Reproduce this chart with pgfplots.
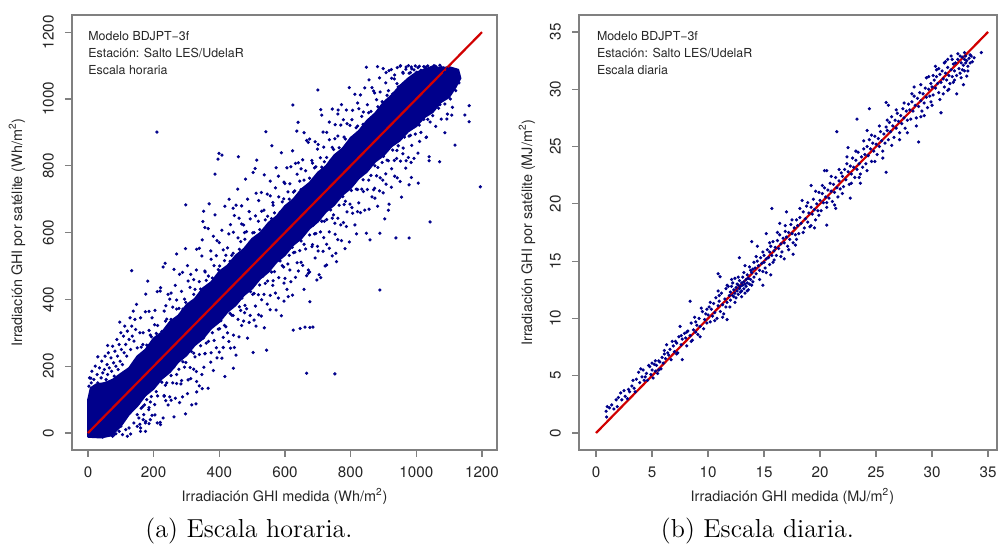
\documentclass[border=0pt]{standalone}
\usepackage{fontspec}
\usepackage{pgfplots}
\pgfplotsset{compat=1.18}
\newfontfamily\helv{TeX Gyre Heros}
\definecolor{ptblue}{rgb}{0,0,0.545}
\definecolor{lnred}{rgb}{0.82,0,0}
\definecolor{boxgray}{gray}{0.5}
\pgfplotsset{
  rstyle/.style={
    scale only axis,
    axis line style={boxgray, line width=0.6pt},
    tick style={boxgray, line width=0.6pt},
    major tick length=3.5pt,
    tick align=outside,
    xtick pos=bottom, ytick pos=left,
    ticklabel style={font=\helv\fontsize{7.6}{9}\selectfont, text=black!85},
    xticklabel style={yshift=-1.5pt},
    yticklabel style={xshift=-2pt, rotate=90, anchor=south},
    /pgf/number format/assume math mode=true,
    /pgf/number format/1000 sep={},
    scaled ticks=false,
  },
}
\begin{document}
\begin{tikzpicture}
\useasboundingbox (0,0) rectangle (499pt,-272pt);
% ---------------- Left: hourly ----------------
\begin{axis}[rstyle, at={(36pt,-7.5pt)}, anchor=north west,
  width=212.5pt, height=217.5pt,
  xmin=-48.7, xmax=1245.8, ymin=-50.9, ymax=1251.5,
  xtick={0,200,...,1200}, ytick={0,200,...,1200}]
% dense core of the cloud
\addplot[draw=ptblue, fill=ptblue, line width=0.8pt, line join=round] coordinates {
(0,-12)(40,-14)(70,-8)(100,20)(125,55)(150,80)(175,112)(200,132)(225,162)(250,182)(275,212)(300,232)(325,262)(350,282)(375,312)(400,332)(425,362)(450,382)(475,412)(500,432)(525,462)(550,482)(575,512)(600,532)(625,562)(650,582)(675,612)(700,632)(725,662)(750,682)(775,712)(800,732)(825,762)(850,782)(875,812)(900,830)(925,858)(950,875)(975,902)(1000,918)(1025,945)(1050,960)(1075,990)(1100,1005)(1120,1035)(1135,1062)
(1128,1088)(1100,1096)(1075,1093)(1050,1098)(1025,1088)(1000,1080)(975,1062)(950,1040)(925,1012)(900,990)(875,958)(850,936)(825,905)(800,884)(775,852)(750,832)(725,800)(700,780)(675,750)(650,730)(625,700)(600,680)(575,650)(550,630)(525,600)(500,582)(475,552)(450,532)(425,502)(400,484)(375,452)(350,434)(325,402)(300,384)(275,352)(250,334)(225,302)(200,284)(175,250)(150,230)(125,195)(100,178)(75,160)(50,150)(25,146)(8,135)(0,100)(0,-12)};
\addplot[ptblue, only marks, mark=*, mark size=0.6pt, mark options={draw=none}] coordinates {
% low region
(3,140)(5,165)(8,95)(10,150)(12,185)(15,120)(18,160)(20,135)(22,200)(25,110)(28,175)(30,150)(33,85)(35,195)(38,140)(40,165)(42,215)(45,180)(48,120)(50,190)(52,230)(55,160)(58,205)(60,175)(62,240)(65,195)(68,150)(70,225)(72,185)(75,260)(78,210)(80,170)(82,245)(85,200)(88,280)(90,230)(92,190)(95,265)(98,215)(100,300)(102,250)(105,205)(108,290)(110,240)(112,320)(115,265)(118,230)(120,305)(125,280)(128,345)(130,250)(133,320)(135,290)(138,365)(140,275)(143,340)(145,310)(148,385)
(15,-8)(25,-10)(35,-6)(45,-12)(55,-8)(65,-4)(75,-10)(85,-2)(95,5)(105,-5)(115,10)(125,15)(130,-3)(140,30)(150,20)(155,45)(160,5)(170,55)(175,30)(185,70)(190,40)(120,-10)(100,20)(80,-5)
% outer halo, above
(150,255)(158,300)(167,265)(175,363)(186,307)(193,288)(204,367)(212,322)(221,435)(232,365)(240,341)(249,401)(258,377)(266,442)(277,373)(285,424)(294,401)(303,501)(311,436)(322,415)(330,488)(339,453)(348,578)(356,485)(367,470)(375,520)(384,501)(393,576)(401,500)(412,548)(420,532)(429,596)(438,532)(446,651)(457,584)(465,573)(474,623)(483,603)(491,663)(502,599)(510,650)(519,634)(528,720)(536,667)(547,649)(555,710)(564,682)(573,794)(581,707)(592,692)(600,747)(609,722)(618,797)(626,721)(637,775)(645,754)(654,818)(663,785)(671,870)(682,816)(690,794)(699,850)(708,824)(716,901)(727,825)(735,878)(744,855)(753,923)(761,889)(772,983)(780,886)(789,926)(798,921)(806,966)(817,914)(825,971)(834,948)(843,1033)(851,983)(862,963)(870,1024)(879,998)(888,1063)(896,992)(907,1048)(915,1025)(924,1088)(933,1060)(941,1046)(952,1100)(960,1077)(969,1096)(978,1077)(986,1090)(997,1099)(1005,1094)(1014,1086)(1023,1097)(1031,1080)(1042,1092)(1050,1089)(1059,1098)(1068,1083)(1076,1095)(1087,1079)(1095,1090)(1104,1084)(1110,1072)
% outer halo, below
(150,55)(158,26)(167,79)(175,5)(186,76)(193,109)(204,54)(212,111)(221,25)(232,110)(240,150)(249,108)(258,150)(266,104)(277,191)(285,157)(294,197)(303,118)(311,196)(322,239)(330,184)(339,235)(348,133)(356,237)(367,274)(375,240)(384,277)(393,225)(401,312)(412,286)(420,318)(429,274)(438,353)(446,256)(457,340)(465,367)(474,335)(483,372)(491,331)(502,415)(510,380)(519,414)(528,350)(536,415)(547,455)(555,412)(564,456)(573,368)(581,465)(592,501)(600,463)(609,506)(618,453)(626,540)(637,510)(645,546)(654,502)(663,551)(671,488)(682,558)(690,596)(699,559)(708,602)(716,544)(727,639)(735,602)(744,643)(753,595)(761,643)(772,576)(780,684)(789,662)(798,685)(806,658)(817,730)(825,689)(834,730)(843,667)(851,729)(862,771)(870,728)(879,770)(888,725)(896,810)(907,776)(915,815)(924,736)(933,816)(941,846)(952,814)(960,853)(969,815)(978,889)(986,861)(997,895)(1005,838)(1014,900)(1023,939)(1031,886)(1042,931)(1050,950)(1059,918)(1068,972)(1076,940)(1087,985)(1095,955)(1104,1000)(1110,975)
% inner halo, above
(154,226)(162,257)(171,232)(179,263)(190,293)(197,264)(208,298)(216,274)(225,304)(236,335)(244,308)(253,340)(262,332)(270,371)(281,340)(289,371)(298,391)(307,373)(315,392)(326,430)(334,396)(343,431)(352,425)(360,457)(371,428)(379,464)(388,456)(397,489)(405,480)(416,516)(424,487)(433,514)(442,538)(450,510)(461,550)(469,540)(478,580)(487,552)(495,573)(506,600)(514,572)(523,609)(532,601)(540,638)(551,612)(559,642)(568,659)(577,644)(585,661)(596,701)(604,667)(613,700)(622,694)(630,725)(641,700)(649,729)(658,757)(667,731)(675,763)(686,756)(694,797)(703,763)(712,796)(720,812)(731,797)(739,816)(748,849)(757,819)(765,854)(776,850)(784,880)(793,850)(802,884)(810,879)(821,919)(829,892)(838,924)(847,918)(855,959)(866,925)(874,954)(883,977)(892,957)(900,978)(911,1011)(919,980)(928,1015)(937,1010)(945,1036)(956,1014)(964,1048)(973,1041)(982,1079)(990,1052)(1001,1080)(1009,1098)(1018,1084)(1027,1092)(1035,1099)(1046,1094)(1054,1100)(1063,1088)(1072,1101)(1082,1093)
% inner halo, below
(154,88)(162,74)(171,116)(179,100)(190,93)(197,136)(208,124)(216,164)(225,152)(236,143)(244,186)(253,172)(262,198)(270,175)(281,228)(289,213)(298,211)(307,247)(315,244)(326,228)(334,278)(343,261)(352,285)(360,269)(371,320)(379,300)(388,326)(397,311)(405,336)(416,322)(424,367)(433,358)(442,352)(450,396)(461,378)(469,404)(478,382)(487,428)(495,423)(506,418)(514,462)(523,443)(532,469)(540,448)(551,496)(559,482)(568,483)(577,516)(585,515)(596,497)(604,547)(613,532)(622,556)(630,541)(641,588)(649,575)(658,565)(667,609)(675,593)(686,622)(694,597)(703,649)(712,634)(720,634)(731,671)(739,668)(748,653)(757,701)(765,682)(776,708)(784,694)(793,742)(802,726)(810,747)(821,729)(829,772)(838,758)(847,782)(855,757)(866,813)(874,800)(883,795)(892,833)(900,828)(911,817)(919,864)(928,847)(937,870)(945,860)(956,904)(964,886)(973,911)(982,891)(990,934)(1001,928)(1009,922)(1018,958)(1027,958)(1035,939)(1046,992)(1054,972)(1063,997)(1072,983)(1082,1024)
(1090,1050)(1100,1040)(1115,1070)(1120,1025)(1130,1048)(1108,1062)(1095,1020)
% far halo A, above
(160,345)(176,416)(195,345)(211,423)(229,497)(244,415)(262,490)(279,475)(297,552)(313,475)(331,550)(347,530)(366,612)(382,589)(400,570)(417,679)(434,624)(451,682)(468,626)(486,700)(503,780)(520,696)(537,773)(555,754)(571,734)(589,839)(606,794)(623,845)(641,809)(658,899)(675,880)(692,872)(709,968)(727,900)(744,970)(761,955)(778,938)(796,1034)(813,1014)(830,1012)(848,1095)(865,1034)(882,1097)(899,1091)(917,1085)(934,1072)(951,1098)(968,1089)(985,1096)
% far halo A, below
(160,15)(176,35)(195,53)(211,30)(229,45)(244,84)(262,48)(279,91)(297,57)(313,163)(331,123)(347,175)(366,134)(382,187)(400,242)(417,169)(434,254)(451,233)(468,322)(486,284)(503,241)(520,354)(537,315)(555,369)(571,419)(589,351)(606,430)(623,413)(641,485)(658,430)(675,482)(692,524)(709,465)(727,565)(744,530)(761,579)(778,630)(796,572)(813,623)(830,660)(848,598)(865,707)(882,679)(899,719)(917,685)(934,769)(951,753)(968,793)(985,765)
% far halo B, above
(168,300)(186,364)(203,324)(220,425)(237,381)(253,419)(270,398)(288,481)(305,455)(322,459)(339,553)(357,482)(374,545)(391,531)(408,607)(425,554)(443,601)(460,643)(477,600)(494,641)(512,718)(529,664)(546,715)(563,690)(580,769)(597,751)(615,746)(632,807)(649,791)(666,876)(684,808)(701,864)(718,856)(735,931)(752,881)(770,922)(787,967)(804,938)(821,988)(839,961)(856,1057)(873,1018)(890,1021)(908,1079)(925,1062)(942,1094)(959,1080)(976,1100)(993,1087)(1010,1078)(1030,1096)
% far halo B, below
(168,40)(186,28)(203,85)(220,32)(237,97)(253,98)(270,148)(288,108)(305,159)(322,191)(339,141)(357,238)(374,212)(391,255)(408,224)(425,300)(443,293)(460,288)(477,360)(494,352)(512,320)(529,399)(546,386)(563,442)(580,404)(597,449)(615,488)(632,466)(649,511)(666,471)(684,564)(701,545)(718,585)(735,553)(752,628)(770,623)(787,618)(804,675)(821,663)(839,723)(856,670)(873,733)(890,764)(908,745)(925,791)(942,764)(959,836)(976,825)(993,822)(1010,873)(1030,885)
% sparse points above the cloud
(210,901)(408,832)(396,820)(399,837)(458,827)(387,775)(369,686)(350,633)(356,615)(542,902)(636,904)(712,952)(762,967)(514,817)(509,792)(456,730)(387,653)(442,673)(468,680)(298,683)(270,536)(235,508)(133,486)(9,164)(624,982)(700,1027)(560,860)(480,760)(352,664)(640,930)(430,700)(182,455)(97,332)(60,262)(30,228)
% sparse points below the cloud
(938,584)(978,584)(978,743)(1042,632)(1195,737)(752,177)(666,179)(329,87)(316,84)(661,317)(685,317)(646,313)(625,308)(676,316)(889,428)(544,248)(443,194)(331,154)(676,393)(757,513)(727,503)(755,538)(859,578)(889,598)(915,667)(874,703)(898,757)(940,822)(722,500)(697,458)(610,408)(671,478)(1161,980)(1148,952)(1161,932)(1108,952)(1093,940)(1039,827)(1039,815)(984,810)(1087,899)(1118,862)(1071,812)(1006,748)(955,706)(904,641)(818,596)(783,552)(704,474)(597,395)(506,338)(412,256)(353,197)(283,147)(232,112)(172,84)(118,52)};
\addplot[lnred, line width=1.1pt] coordinates {(0,0)(1200,1200)};
\end{axis}
% ---------------- Right: daily ----------------
\begin{axis}[rstyle, at={(289.5pt,-7.5pt)}, anchor=north west,
  width=209pt, height=217.5pt,
  xmin=-1.52, xmax=35.8, ymin=-1.48, ymax=36.48,
  xtick={0,5,...,35}, ytick={0,5,...,35}]
\addplot[ptblue, only marks, mark=*, mark size=0.6pt, mark options={draw=none}] coordinates {
(0.9,1.9)(0.95,1.4)(1.2,2.2)(1.4,2.45)(1.8,2.9)(1.9,2.3)
(2.2,3.5)(2.3,2.9)(2.6,3.2)(2.9,3.8)(3.0,3.6)(3.2,4.1)(3.4,3.9)(3.6,4.7)(3.8,5.3)(3.9,4.4)
(4.1,4.9)(4.2,5.5)(4.3,4.6)(4.5,5.2)(4.6,4.6)(4.7,5.9)(4.8,5.8)(4.9,5.1)(5.0,5.5)(5.1,4.8)(5.2,6.0)(5.3,5.4)(5.4,5.9)(5.5,5.2)(5.6,6.3)(5.7,6.2)(5.8,5.6)(5.9,6.6)
(6.0,6.1)(6.1,6.9)(6.2,6.5)(6.3,7.7)(6.5,6.8)(6.6,7.3)(6.7,6.4)(6.9,7.6)(7.0,7.1)(7.1,8.0)(7.2,7.85)(7.3,7.0)(7.4,8.4)(7.5,9.3)(7.6,7.7)(7.7,8.2)(7.7,6.4)(7.9,8.7)
(8.0,8.3)(8.1,7.6)(8.2,8.9)(8.4,8.5)(8.4,11.5)(8.5,9.6)(8.6,8.1)(8.7,9.0)(8.8,10.1)(8.9,8.8)(9.0,9.4)(9.1,8.6)(9.2,10.0)(9.3,9.3)(9.5,10.6)(9.6,9.1)(9.7,9.9)(9.8,10.4)(9.9,9.6)
(10.0,10.3)(10.1,11.0)(10.2,9.7)(10.3,10.8)(10.4,10.2)(10.5,11.3)(10.6,10.5)(10.7,11.8)(10.8,10.0)(10.9,11.1)(10.9,13.9)(11.07,13.64)(11.0,11.5)(11.1,10.6)(11.2,12.2)(11.3,11.2)(11.4,10.4)(11.5,11.7)(11.6,12.6)(11.7,11.4)(11.8,12.8)(11.9,12.0)(11.95,11.0)(11.7,9.9)(10.9,12.4)(11.7,12.9)
(12.0,12.3)(12.0,11.6)(12.1,12.8)(12.2,12.0)(12.2,13.1)(12.3,11.9)(12.3,12.5)(12.4,12.2)(12.4,13.5)(12.5,12.7)(12.5,11.8)(12.6,12.4)(12.6,13.0)(12.7,12.1)(12.7,12.9)(12.8,12.6)(12.8,13.3)(12.8,15.3)(12.9,12.3)(12.9,12.8)(13.0,13.1)(13.0,12.4)(13.1,12.9)(13.1,13.6)(13.2,12.6)(13.2,13.2)(13.3,13.0)(13.3,12.2)(13.4,13.4)(13.4,12.8)(13.5,13.8)(13.5,13.1)(13.6,12.5)(13.6,13.5)(13.7,13.0)(13.8,14.2)(13.8,13.4)(13.9,12.9)(13.9,14.0)(13.3,14.6)(13.9,16.7)
(14.0,14.3)(14.1,13.6)(14.1,14.9)(14.2,14.4)(14.3,13.9)(14.4,15.0)(14.5,14.6)(14.6,13.4)(14.7,15.3)(14.8,14.8)(14.9,14.1)(15.0,15.5)(15.0,14.9)(15.1,14.4)(15.2,15.2)(15.3,16.0)(15.4,15.3)(15.5,14.7)(15.5,15.8)(15.6,16.3)(15.7,15.5)(15.7,19.6)(15.8,16.7)(15.8,14.9)(15.9,15.9)(14.4,16.3)(15.2,17.4)(15.6,13.8)(14.9,12.9)
(16.0,16.2)(16.1,15.5)(16.2,16.8)(16.3,16.1)(16.4,17.3)(16.5,16.5)(16.6,15.8)(16.7,17.0)(16.8,16.6)(16.9,17.6)(17.0,17.1)(17.1,16.3)(17.2,17.5)(17.3,16.9)(17.4,18.2)(17.5,17.4)(17.6,16.6)(17.7,17.9)(17.8,17.3)(17.9,18.6)(16.4,18.3)(17.0,19.3)(17.6,15.6)(16.8,15.2)(17.9,16.9)
(18.0,18.1)(18.1,17.4)(18.2,18.8)(18.3,18.3)(18.5,19.3)(18.6,17.9)(18.7,18.7)(18.8,19.8)(18.9,18.4)(19.0,19.2)(19.1,18.0)(19.2,19.7)(19.3,19.1)(19.4,20.4)(19.5,19.5)(19.6,18.6)(19.7,20.0)(19.8,19.4)(19.9,21.0)(18.4,20.3)(19.2,21.6)(19.5,17.9)
(20.0,20.3)(20.1,19.4)(20.2,20.9)(20.3,20.1)(20.4,21.4)(20.4,22.9)(20.5,20.6)(20.6,19.7)(20.6,18.15)(20.7,21.2)(20.8,20.5)(20.9,21.8)(21.0,21.1)(21.1,20.2)(21.2,21.7)(21.3,21.0)(21.4,22.3)(21.5,21.4)(21.5,26.3)(21.6,20.6)(21.7,22.0)(21.8,21.3)(21.9,22.7)(20.6,22.9)(21.4,19.6)
(22.0,22.4)(22.1,21.5)(22.2,23.0)(22.3,22.1)(22.4,23.5)(22.5,22.8)(22.6,21.7)(22.7,23.3)(22.7,20.5)(22.8,22.6)(22.9,24.0)(23.0,23.2)(23.1,22.3)(23.2,23.8)(23.3,23.0)(23.3,27.4)(23.4,24.5)(23.5,23.5)(23.6,22.6)(23.7,24.1)(23.8,23.2)(23.9,24.8)(22.5,24.9)(23.6,21.8)
(24.0,24.3)(24.1,23.5)(24.2,25.0)(24.3,24.2)(24.4,25.6)(24.4,28.3)(24.5,24.8)(24.6,23.7)(24.7,25.3)(24.8,24.6)(24.9,25.9)(25.0,25.2)(25.1,24.3)(25.2,25.7)(25.3,25.0)(25.4,26.3)(25.5,25.5)(25.6,24.6)(25.7,26.1)(25.8,25.3)(25.9,26.7)(25.9,28.85)(26.1,28.6)(25.9,22.75)(24.2,26.4)
(26.0,26.4)(26.1,25.6)(26.2,27.1)(26.3,26.3)(26.4,27.6)(26.5,26.8)(26.6,25.8)(26.7,27.3)(26.8,26.6)(26.9,27.9)(27.0,27.2)(27.1,26.2)(27.2,27.7)(27.3,27.0)(27.4,28.3)(27.5,27.5)(27.6,26.6)(27.7,28.1)(27.8,27.3)(27.9,28.7)
(28.0,28.2)(28.1,27.4)(28.2,28.9)(28.3,28.1)(28.4,29.4)(28.5,28.6)(28.6,27.5)(28.7,29.2)(28.8,28.5)(28.8,25.4)(28.9,29.7)(29.0,29.0)(29.1,28.1)(29.2,29.6)(29.3,28.8)(29.4,30.1)(29.5,29.3)(29.6,28.4)(29.7,30.0)(29.8,29.4)(29.9,30.5)(29.5,31.0)(29.0,27.6)(28.4,30.2)(29.9,28.9)
(30.0,30.2)(30.1,29.5)(30.2,30.8)(30.3,32.0)(30.3,30.1)(30.4,31.1)(30.5,30.5)(30.6,29.7)(30.7,31.3)(30.8,27.95)(30.8,30.6)(30.9,31.6)(31.0,30.9)(31.1,30.2)(31.2,31.4)(31.3,30.8)(31.4,31.9)(31.5,31.2)(31.6,30.5)(31.7,31.7)(31.8,31.1)(31.9,32.2)(31.2,32.4)(31.0,29.6)(31.5,30.0)(31.8,32.6)(30.6,31.8)(31.4,32.6)(31.9,30.6)(30.1,31.2)
(32.0,31.6)(32.1,32.3)(32.2,29.6)(32.2,31.2)(32.3,32.6)(32.4,31.8)(32.5,32.9)(32.5,31.4)(32.6,32.3)(32.7,31.7)(32.7,32.8)(32.8,32.1)(32.9,32.6)(32.9,31.6)(33.0,32.3)(33.0,32.9)(33.1,31.15)(33.1,32.5)(33.2,32.0)(33.3,32.7)(33.4,32.3)(33.5,32.9)(33.75,32.75)(34.4,33.2)(33.6,32.4)
(1.0,2.3)(1.6,2.1)(2.0,3.1)(2.5,3.7)(2.8,3.0)(3.3,4.6)(3.5,3.6)(4.0,5.6)(4.4,4.9)(5.0,6.1)(5.3,6.3)(5.6,5.5)(6.1,7.2)(6.4,7.0)(6.8,8.0)(7.2,6.9)(7.6,8.5)(8.1,8.8)(8.5,8.0)(8.9,9.7)(9.3,8.4)(9.4,10.9)(9.9,10.8)(10.2,11.4)(10.6,9.8)(11.0,12.0)(11.3,10.1)(11.6,11.0)(12.1,13.4)(12.4,11.4)(12.7,13.6)(13.0,11.9)(13.2,14.0)(13.5,12.4)(13.7,14.5)(14.0,13.2)(14.3,15.4)(14.6,14.2)(14.9,15.8)(15.2,14.0)(15.5,16.6)(15.9,15.1)(16.2,17.5)(16.5,15.4)(16.9,18.1)(17.2,16.0)(17.5,18.6)(17.8,16.4)(18.2,19.6)(18.5,17.5)(18.9,20.1)(19.2,18.1)(19.6,21.1)(19.9,19.0)(20.2,21.6)(20.6,20.1)(21.0,22.4)(21.3,19.9)(21.7,23.0)(22.0,20.9)(22.4,24.1)(22.8,21.8)(23.2,24.6)(23.5,22.3)(23.9,25.5)(24.2,22.9)(24.6,26.0)(24.9,23.7)(25.3,26.8)(25.6,24.0)(26.0,27.3)(26.4,25.1)(26.8,28.2)(27.1,25.6)(27.5,28.8)(27.8,26.2)(28.2,29.6)(28.6,26.8)(29.0,30.4)(29.3,27.7)(29.7,31.1)(30.0,28.6)(30.4,31.7)(30.7,29.1)(31.1,32.3)(31.4,29.9)(31.7,32.9)(32.0,30.8)(32.3,33.1)(32.6,31.0)(32.9,33.2)(33.2,31.6)(33.4,33.0)(32.8,30.4)};
\addplot[lnred, line width=1.1pt] coordinates {(0,0)(35,35)};
\end{axis}
% ---------------- texts ----------------
\begin{scope}[every node/.style={font=\helv\fontsize{6.2}{7}\selectfont, text=black!85, anchor=west, inner sep=0pt}]
\node at (44pt,-18pt) {Modelo BDJPT\char"2212 3f};
\node at (44pt,-26.6pt) {Estación: Salto LES/UdelaR};
\node at (44pt,-35pt) {Escala horaria};
\node at (298.3pt,-18pt) {Modelo BDJPT\char"2212 3f};
\node at (298.3pt,-26.6pt) {Estación: Salto LES/UdelaR};
\node at (298.3pt,-35pt) {Escala diaria};
\end{scope}
\begin{scope}[every node/.style={font=\helv\fontsize{7.2}{8}\selectfont, text=black!85, inner sep=0pt}]
\node[rotate=90] at (8.5pt,-116.25pt) {Irradiación GHI por satélite (Wh/m\textsuperscript{2})};
\node at (142.3pt,-248.3pt) {Irradiación GHI medida (Wh/m\textsuperscript{2})};
\node[rotate=90] at (263.5pt,-116.25pt) {Irradiación GHI por satélite (MJ/m\textsuperscript{2})};
\node at (396.2pt,-248.3pt) {Irradiación GHI medida (MJ/m\textsuperscript{2})};
\end{scope}
\node[font=\fontsize{13}{15}\selectfont, inner sep=0pt] at (124.5pt,-265.5pt) {(a) Escala horaria.};
\node[font=\fontsize{13}{15}\selectfont, inner sep=0pt] at (378.7pt,-265.5pt) {(b) Escala diaria.};
\end{tikzpicture}
\end{document}
